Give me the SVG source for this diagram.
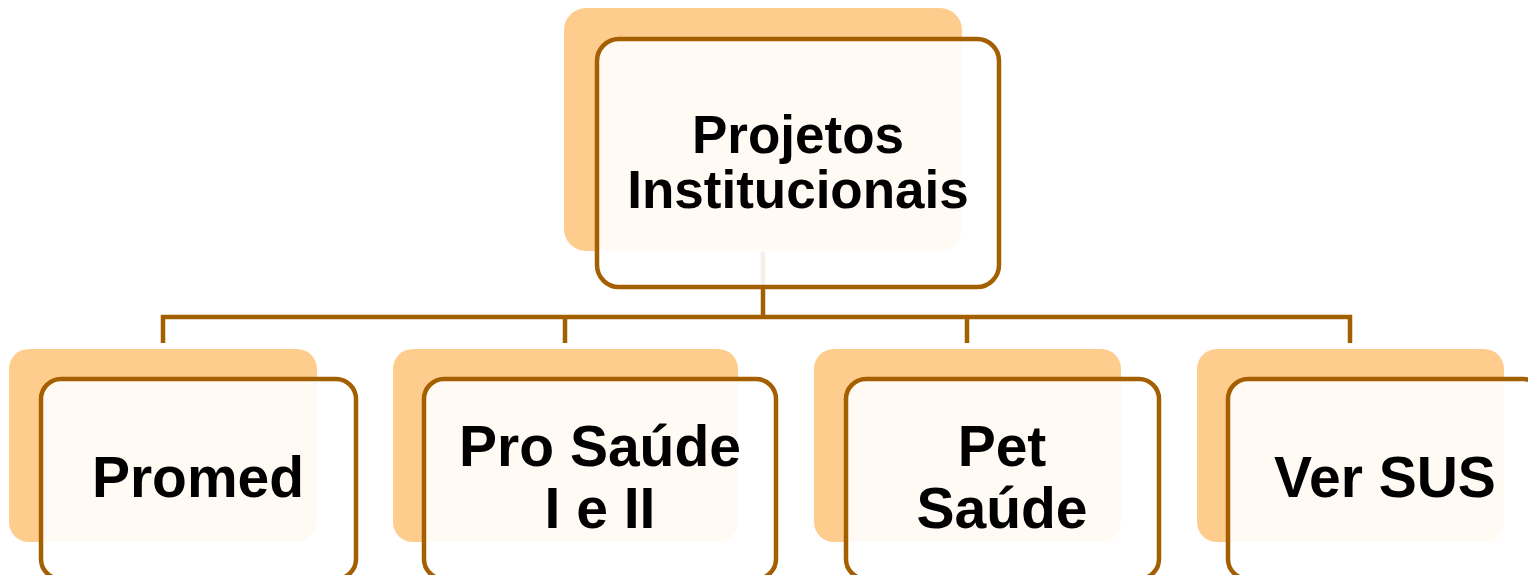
<svg xmlns="http://www.w3.org/2000/svg" width="1528" height="575" viewBox="0 0 1528 575">
<style>
.back{fill:#FECD8D;}
.front{fill:#FFFFFF;fill-opacity:0.9;stroke:#A35F00;stroke-width:4.5;}
.conn{fill:none;stroke:#A35F00;stroke-width:4.5;stroke-linejoin:miter;}
.lbl{font-family:"Liberation Sans",Arial,sans-serif;font-weight:bold;fill:#000;text-anchor:middle;}
</style>
<rect width="1528" height="575" fill="#FFFFFF"/>
<g id="connectors">
<line class="conn" x1="763" y1="252" x2="763" y2="317"/>
<polyline class="conn" points="163,343 163,317 1350,317 1350,343"/>
<line class="conn" x1="565" y1="317" x2="565" y2="343"/>
<line class="conn" x1="967" y1="317" x2="967" y2="343"/>
</g>
<g id="node-projetos">
<rect class="back" x="564" y="8" width="398" height="243" rx="22"/>
<rect class="front" x="597" y="39" width="402" height="248" rx="22"/>
<text class="lbl" font-size="53" x="798" y="153">Projetos</text>
<text class="lbl" font-size="53" x="798" y="208">Institucionais</text>
</g>
<g id="node-promed">
<rect class="back" x="9" y="349" width="308" height="193" rx="20"/>
<rect class="front" x="41" y="379" width="315" height="200" rx="20"/>
<text class="lbl" font-size="57" x="198" y="497">Promed</text>
</g>
<g id="node-prosaude">
<rect class="back" x="393" y="349" width="345" height="193" rx="20"/>
<rect class="front" x="424" y="379" width="352" height="200" rx="20"/>
<text class="lbl" font-size="57" x="600" y="466">Pro Saúde</text>
<text class="lbl" font-size="57" x="600" y="528">I e II</text>
</g>
<g id="node-petsaude">
<rect class="back" x="814" y="349" width="307" height="193" rx="20"/>
<rect class="front" x="846" y="379" width="313" height="200" rx="20"/>
<text class="lbl" font-size="57" x="1002" y="466">Pet</text>
<text class="lbl" font-size="57" x="1002" y="528">Saúde</text>
</g>
<g id="node-versus">
<rect class="back" x="1197" y="349" width="307" height="193" rx="20"/>
<rect class="front" x="1228" y="379" width="315" height="200" rx="20"/>
<text class="lbl" font-size="57" x="1385" y="497">Ver SUS</text>
</g>
</svg>
